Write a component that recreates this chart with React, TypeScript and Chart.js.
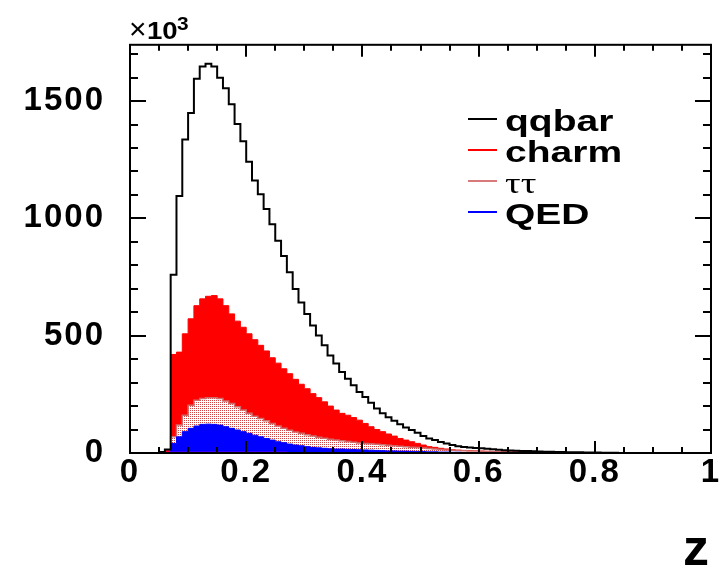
import React, { useEffect, useRef } from "react";
import { Chart, registerables } from "chart.js";

Chart.register(...registerables);

// Histogram: 100 bins of width 0.01 on z in [0, 1]; values in units of 10^3
const binLow = Array.from({ length: 100 }, (_, i) => i / 100);

const qqbar = [
  0, 0, 0, 0, 0, 4, 15, 760, 1095, 1336,
  1449, 1595, 1648, 1659, 1648, 1600, 1555, 1487, 1402, 1329,
  1241, 1162, 1103, 1040, 975, 905, 840, 770, 699, 642,
  593, 543, 501, 459, 416, 381, 345, 317, 289, 260,
  239, 214, 190, 169, 152, 137, 123, 109, 98, 86,
  72, 62, 55, 47, 41, 34, 29, 26, 23, 21,
  20, 18, 16, 14, 12, 11, 10, 9, 8, 7,
  6, 5, 5, 4, 4, 3, 3, 3, 2, 2,
  2, 1, 1, 1, 0.5, 0, 0, 0, 0, 0,
  0, 0, 0, 0, 0, 0, 0, 0, 0, 0,
];

const charm = [
  0, 0, 0, 0, 0, 0, 10, 420, 430, 508,
  572, 628, 657, 668, 671, 657, 628, 593, 562, 536,
  508, 483, 459, 435, 406, 383, 359, 338, 314, 293,
  274, 253, 236, 218, 200, 183, 169, 161, 151, 140,
  126, 112, 100, 91, 81, 72, 62, 55, 48, 41,
  34, 27, 24, 20, 17, 14, 12, 11, 10, 9,
  8, 7, 7, 6, 6, 5, 5, 4, 4, 4,
  3, 3, 3, 3, 2, 2, 2, 1, 0, 0,
  0, 0, 0, 0, 0, 0, 0, 0, 0, 0,
  0, 0, 0, 0, 0, 0, 0, 0, 0, 0,
];

const tautau = [
  0, 0, 0, 0, 0, 0, 0, 69, 119, 161,
  204, 225, 232, 236, 236, 232, 222, 211, 197, 183,
  169, 157, 147, 137, 126, 115, 105, 97, 90, 84,
  78, 72, 67, 63, 59, 55, 52, 49, 46, 43,
  41, 39, 37, 35, 33, 31, 29, 27, 25, 23,
  21, 19, 17, 15, 13, 12, 11, 10, 9, 8,
  7, 6, 5, 5, 4, 4, 3, 3, 3, 2,
  2, 2, 2, 1, 1, 1, 1, 0, 0, 0,
  0, 0, 0, 0, 0, 0, 0, 0, 0, 0,
  0, 0, 0, 0, 0, 0, 0, 0, 0, 0,
];

const qed = [
  0, 0, 0, 0, 0, 0, 0, 41, 69, 91,
  105, 115, 122, 123, 122, 119, 112, 105, 98, 91,
  84, 76, 69, 62, 55, 48, 44, 38, 34, 31,
  27, 24, 22, 20, 18, 17, 17, 16, 15, 14,
  13, 12, 11, 10, 9, 9, 8, 8, 7, 6,
  6, 5, 5, 4, 4, 3, 3, 2, 2, 1,
  0, 0, 0, 0, 0, 0, 0, 0, 0, 0,
  0, 0, 0, 0, 0, 0, 0, 0, 0, 0,
  0, 0, 0, 0, 0, 0, 0, 0, 0, 0,
  0, 0, 0, 0, 0, 0, 0, 0, 0, 0,
];

const other = [
  0, 0, 0, 0, 0, 0, 3, 3, 3, 3,
  3, 3, 3, 3, 3, 3, 3, 3, 3, 3,
  3, 3, 3, 3, 3, 3, 3, 0, 0, 0,
  0, 0, 0, 0, 0, 0, 0, 0, 0, 0,
  0, 0, 0, 0, 0, 0, 0, 0, 0, 0,
  0, 0, 0, 0, 0, 0, 0, 0, 0, 0,
  0, 0, 0, 0, 0, 0, 0, 0, 0, 0,
  0, 0, 0, 0, 0, 0, 0, 0, 0, 0,
  0, 0, 0, 0, 0, 0, 0, 0, 0, 0,
  0, 0, 0, 0, 0, 0, 0, 0, 0, 0,
];

const xTickValues = [0, 0.05, 0.1, 0.15, 0.2, 0.25, 0.3, 0.35, 0.4, 0.45, 0.5, 0.55, 0.6, 0.65, 0.7, 0.75, 0.8, 0.85, 0.9, 0.95, 1];
const xMajorTicks = [0, 0.2, 0.4, 0.6, 0.8, 1];
const xTickLabels = ["0", "0.2", "0.4", "0.6", "0.8", "1"];
const yTickValues = [0, 100, 200, 300, 400, 500, 600, 700, 800, 900, 1000, 1100, 1200, 1300, 1400, 1500, 1600, 1700];
const yMajorTicks = [0, 500, 1000, 1500];
const yTickLabels = ["0", "500", "1000", "1500"];

const legendItems = [
  { label: "qqbar", color: "#000000", bold: true },
  { label: "charm", color: "#ff0000", bold: true },
  { label: "ττ", color: "#d87a7a", bold: false },
  { label: "QED", color: "#0000ff", bold: true },
];

function toSteps(values: number[]) {
  const pts = values.map((v, i) => ({ x: binLow[i], y: v }));
  pts.push({ x: 1, y: values[values.length - 1] });
  return pts;
}

function makePattern(ctx: CanvasRenderingContext2D) {
  const c = document.createElement("canvas");
  c.width = 2;
  c.height = 2;
  const p = c.getContext("2d")!;
  p.fillStyle = "#ffffff";
  p.fillRect(0, 0, 2, 2);
  p.fillStyle = "#d24646";
  p.fillRect(0, 0, 1, 1);
  return ctx.createPattern(c, "repeat")!;
}

const framePlugin = {
  id: "rootFrame",
  beforeDraw(chart: any) {
    chart.ctx.letterSpacing = "2px";
  },
  afterDraw(chart: any) {
    const ctx: CanvasRenderingContext2D = chart.ctx;
    const { left, right, top, bottom } = chart.chartArea;
    const xs = chart.scales.x;
    const ys = chart.scales.y;
    ctx.save();
    (ctx as any).letterSpacing = "0px";
    ctx.strokeStyle = "#000";
    ctx.lineWidth = 2;
    ctx.strokeRect(left, top, right - left, bottom - top);
    ctx.beginPath();
    for (const v of xTickValues) {
      const px = Math.round(xs.getPixelForValue(v));
      const len = xMajorTicks.includes(v) ? 12 : 6;
      ctx.moveTo(px, bottom);
      ctx.lineTo(px, bottom - len);
      ctx.moveTo(px, top);
      ctx.lineTo(px, top + len);
    }
    for (const v of yTickValues) {
      const py = Math.round(ys.getPixelForValue(v));
      const len = yMajorTicks.includes(v) ? 16 : 8;
      ctx.moveTo(left, py);
      ctx.lineTo(left + len, py);
      ctx.moveTo(right, py);
      ctx.lineTo(right - len, py);
    }
    ctx.stroke();

    // x10^3 multiplier
    ctx.fillStyle = "#000";
    ctx.textBaseline = "alphabetic";
    ctx.textAlign = "left";
    ctx.font = "30px 'Liberation Sans'";
    ctx.fillText("×", left - 1, top - 6);
    ctx.save();
    ctx.translate(left + 17, top - 6);
    ctx.scale(1.2, 1);
    ctx.font = "bold 23px 'Liberation Sans'";
    ctx.fillText("10", 0, 0);
    ctx.restore();
    ctx.save();
    ctx.translate(left + 47, top - 15);
    ctx.scale(1.1, 1);
    ctx.font = "bold 19px 'Liberation Sans'";
    ctx.fillText("3", 0, 0);
    ctx.restore();

    // legend
    legendItems.forEach((it, i) => {
      const cy = 119 + 31 * i;
      ctx.strokeStyle = it.color;
      ctx.lineWidth = 2;
      ctx.beginPath();
      ctx.moveTo(468, cy);
      ctx.lineTo(497, cy);
      ctx.stroke();
      ctx.save();
      ctx.translate(505, cy + 12);
      ctx.scale(1.3, 1);
      ctx.fillStyle = "#000";
      ctx.font = it.bold ? "bold 30px 'Liberation Sans'" : "30px 'Liberation Serif'";
      ctx.fillText(it.label, 0, 0);
      ctx.restore();
    });
    ctx.restore();
  },
};

export default function App() {
  const ref = useRef<HTMLCanvasElement | null>(null);
  useEffect(() => {
    const canvas = ref.current!;
    const ctx = canvas.getContext("2d")!;
    const pattern = makePattern(ctx);
    const base = { stepped: true, pointRadius: 0, tension: 0 };
    const chart = new Chart(canvas, {
      type: "line",
      data: {
        datasets: [
          { ...base, label: "qqbar", data: toSteps(qqbar), borderColor: "#000000", borderWidth: 2, fill: false },
          { ...base, label: "other", data: toSteps(other), borderColor: "#ff00ff", borderWidth: 1, fill: false },
          { ...base, label: "QED", data: toSteps(qed), borderColor: "#0000ff", backgroundColor: "#0000ff", borderWidth: 1, fill: "origin" },
          { ...base, label: "ττ", data: toSteps(tautau), borderColor: "#cf6a6a", backgroundColor: pattern, borderWidth: 1.5, fill: "origin" },
          { ...base, label: "charm", data: toSteps(charm), borderColor: "#ff0000", backgroundColor: "#ff0000", borderWidth: 1, fill: "origin" },
        ] as any,
      },
      options: {
        animation: false,
        responsive: false,
        events: [],
        layout: { padding: { top: 43, right: 17, left: 0, bottom: 0 } },
        plugins: { legend: { display: false }, tooltip: { enabled: false } },
        scales: {
          x: {
            type: "linear",
            min: 0,
            max: 1,
            afterFit: (s: any) => { s.height = 114; },
            afterBuildTicks: (s: any) => { s.ticks = xMajorTicks.map((v) => ({ value: v })); },
            grid: { display: false, drawTicks: false },
            border: { display: false },
            ticks: {
              autoSkip: false,
              maxRotation: 0,
              padding: 0,
              color: "#000",
              font: { family: "'Liberation Sans'", size: 33, weight: "bold" },
              callback: (_v: any, i: number) => xTickLabels[i],
            },
            title: {
              display: true,
              text: "z",
              align: "end",
              color: "#000",
              font: { family: "'Liberation Sans'", size: 52, weight: "bold", lineHeight: 0.6 },
              padding: { top: 0, bottom: 1 },
            },
          },
          y: {
            type: "linear",
            min: 0,
            max: 1740,
            afterFit: (s: any) => { s.width = 130; },
            afterBuildTicks: (s: any) => { s.ticks = yMajorTicks.map((v) => ({ value: v })); },
            grid: { display: false, drawTicks: false },
            border: { display: false },
            ticks: {
              autoSkip: false,
              padding: 25,
              color: "#000",
              font: { family: "'Liberation Sans'", size: 33, weight: "bold" },
              callback: (_v: any, i: number) => yTickLabels[i],
            },
          },
        },
      } as any,
      plugins: [framePlugin],
    });
    return () => chart.destroy();
  }, []);
  return (
    <canvas
      ref={ref}
      width={728}
      height={567}
      style={{ position: "absolute", left: 0, top: 0, display: "block" }}
    />
  );
}
